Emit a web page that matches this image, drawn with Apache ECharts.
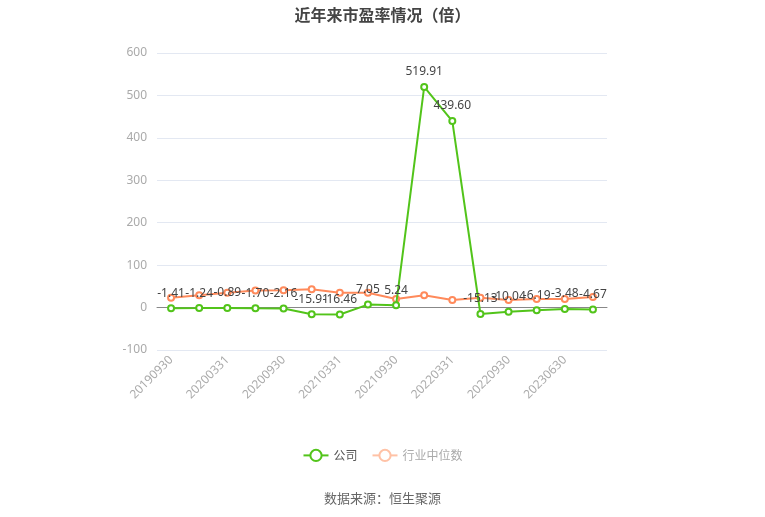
<!DOCTYPE html>
<html><head><meta charset="utf-8">
<script src="https://cdn.jsdelivr.net/npm/echarts@6/dist/echarts.min.js"></script>
<style>html,body{margin:0;padding:0;background:#fff}#c{width:765px;height:517px}</style>
</head><body><div id="c"></div>
<script>
const categories = ['20190930','20191231','20200331','20200630','20200930','20201231','20210331','20210630','20210930','20211231','20220331','20220630','20220930','20230331','20230630','20230930'];
const companyPE = [-1.41,-1.24,-0.89,-1.70,-2.16,-15.91,-16.46,7.05,5.24,519.91,439.60,-15.13,-10.04,-6.19,-3.48,-4.67];
const industryPE = [23,29,35,40,41,43,35,35,20,29,18,23,18,20,20,25];
const yTicks = {min:-100, max:600, interval:100};

const chart = echarts.init(document.getElementById('c'));
chart.setOption({
  backgroundColor:'#fff',
  title:{text:'近年来市盈率情况（倍）',left:'center',top:2,textStyle:{fontSize:16,fontWeight:'bold',color:'#444',fontFamily:'"Noto Sans CJK SC", sans-serif'}},
  grid:{left:157,right:158,top:53,bottom:167},
  legend:{bottom:50,left:'center',itemWidth:25,itemHeight:14,itemGap:14,
    textStyle:{fontSize:12,fontFamily:'"Noto Sans CJK SC", sans-serif'},
    data:[{name:'公司',textStyle:{color:'#555'}},{name:'行业中位数',itemStyle:{color:'#fff',borderColor:'#ffc2a6'},lineStyle:{color:'#ffc2a6'},textStyle:{color:'#aaa'}}]},
  graphic:[{type:'text',left:'center',top:492,style:{text:'数据来源：恒生聚源',fill:'#666',fontSize:13,fontFamily:'"Noto Sans CJK SC", sans-serif'}}],
  xAxis:{type:'category',data:categories,boundaryGap:true,
    axisLine:{onZero:true,lineStyle:{color:'#888'}},
    axisTick:{alignWithLabel:true,interval:1,lineStyle:{color:'#888'}},
    axisLabel:{interval:1,rotate:45,color:'#aaa',fontSize:12,fontFamily:'"Noto Sans", sans-serif',margin:8}},
  yAxis:{type:'value',min:yTicks.min,max:yTicks.max,interval:yTicks.interval,
    axisLabel:{color:'#aaa',fontSize:12,margin:10,fontFamily:'"Noto Sans", sans-serif'},
    axisLine:{show:false},axisTick:{show:false},
    splitLine:{lineStyle:{color:'#e3e8f2'}}},
  series:[
    {name:'公司',type:'line',data:companyPE,z:3,symbol:'circle',symbolSize:6,showSymbol:true,
      lineStyle:{color:'#52c41a',width:2},itemStyle:{color:'#fff',borderColor:'#52c41a',borderWidth:2},
      label:{show:true,position:'top',color:'#444',fontSize:12,fontFamily:'"Noto Sans", sans-serif',formatter:p=>p.value.toFixed(2)}},
    {name:'行业中位数',type:'line',data:industryPE,z:2,symbol:'circle',symbolSize:6,
      lineStyle:{color:'#ff8a5b',width:2},itemStyle:{color:'#fff',borderColor:'#ff8a5b',borderWidth:2}}
  ]
});
</script></body></html>
